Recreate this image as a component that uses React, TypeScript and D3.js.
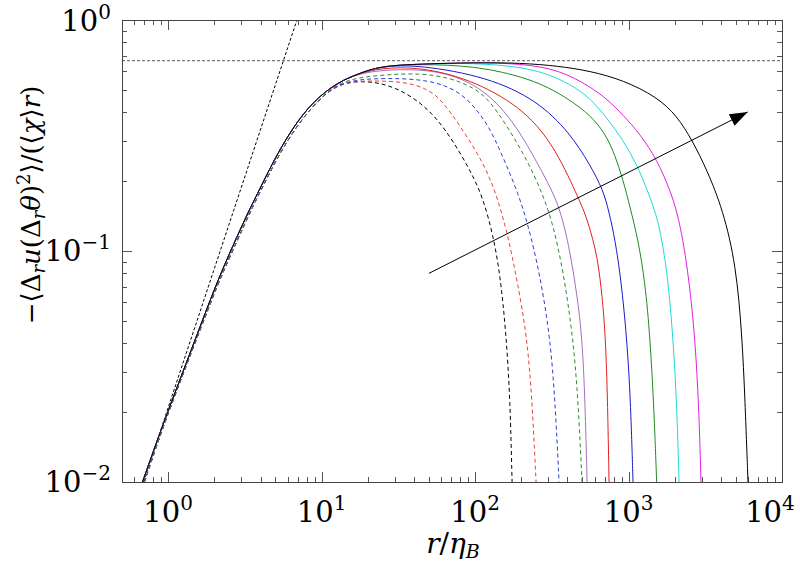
import React from 'react';
import * as d3 from 'd3';

const W = 800;
const H = 564;
const plot = { left: 122, right: 782, top: 20, bottom: 482 };

// axis extents and labelled decades
const xDomain: [number, number] = [0.5, 1e4];
const yDomain: [number, number] = [0.01, 1];
const xDecades = [1, 10, 100, 1000, 10000];
const xExps = ['0', '1', '2', '3', '4'];
const yDecades = [1, 0.1, 0.01];
const yExps = ['0', '\u22121', '\u22122'];

// reference lines
const plateauLine: [number, number][] = [[0.5, 0.667], [1e4, 0.667]];
const steepLine: [number, number][] = [[0.69, 0.01], [6.9, 1.0]];
const arrowPts: [number, number][] = [[50, 0.08], [5980, 0.4]];

// common small-r branch (all curves collapse here)
const riseSolid: [number, number][] = [
  [0.68, 0.01], [0.85, 0.0152], [1.03, 0.0215], [1.43, 0.038], [1.8, 0.057],
  [2.2, 0.08], [2.8, 0.115], [3.4, 0.152], [3.8, 0.176], [5.1, 0.262],
  [7, 0.37], [9.5, 0.465], [13, 0.54], [17, 0.582],
];
const riseDashed: [number, number][] = [
  [0.7, 0.01], [0.85, 0.0147], [1.03, 0.021], [1.43, 0.037], [1.8, 0.055],
  [2.2, 0.077], [2.8, 0.11], [3.4, 0.146], [3.8, 0.17], [5.1, 0.252],
  [7, 0.355], [9.5, 0.45],
];

// large-r tails of each curve
const blackDashed: [number, number][] = [
  [13.2, 0.539], [20.7, 0.545], [30.1, 0.513], [43.8, 0.442], [57.4, 0.369],
  [71.9, 0.299], [92.8, 0.224], [112.7, 0.17], [131, 0.117], [145.6, 0.079],
  [159.2, 0.044], [169.1, 0.0227], [174.2, 0.01],
];
const redDashed: [number, number][] = [
  [13.2, 0.539], [22.3, 0.547], [35, 0.539], [47.2, 0.508], [59.2, 0.46],
  [79.9, 0.348], [112.7, 0.243], [137, 0.178], [161.6, 0.121], [187.8, 0.075],
  [218.2, 0.0424], [235.1, 0.0227], [249.7, 0.01],
];
const blueDashed: [number, number][] = [
  [13.2, 0.5445], [24.05, 0.561], [43.8, 0.555], [63.8, 0.523], [86.1, 0.469],
  [119.7, 0.362], [152.2, 0.255], [190.6, 0.178], [221.5, 0.13], [265.1, 0.0787],
  [308.1, 0.0424], [331.9, 0.0227], [352.5, 0.01],
];
const greenDashed: [number, number][] = [
  [13.2, 0.55], [24.05, 0.578], [43.8, 0.59], [68.7, 0.561], [92.8, 0.518],
  [119.7, 0.464], [161.6, 0.348], [218.2, 0.248], [277.3, 0.175], [322.2, 0.13],
  [374.4, 0.0827], [435, 0.0424], [468.8, 0.0227], [497.8, 0.01],
];
const purpleSolid: [number, number][] = [
  [24.05, 0.607], [43.8, 0.614], [74.1, 0.578], [119.7, 0.488], [176.8, 0.365],
  [238.8, 0.26], [298.9, 0.197], [357.9, 0.1535], [415.7, 0.1], [461.8, 0.0645],
  [497.8, 0.0424], [520.7, 0.0227], [536.6, 0.01],
];
const redSolid: [number, number][] = [
  [24.05, 0.62], [43.8, 0.626], [92.8, 0.555], [196.5, 0.424], [322.2, 0.293],
  [468.8, 0.171], [528.6, 0.142], [587.1, 0.112], [632.8, 0.0896], [672, 0.0645],
  [708.3, 0.0424], [729.8, 0.0227], [746.4, 0.01],
];
const blueSolid: [number, number][] = [
  [24.05, 0.632], [43.8, 0.639], [119.7, 0.567], [253.4, 0.45], [415.7, 0.324],
  [561.4, 0.236], [682.3, 0.184], [746.4, 0.1475], [816.9, 0.112], [893.6, 0.0749],
  [973.4, 0.0424], [1030.4, 0.0227], [1069.7, 0.01],
];
const greenSolid: [number, number][] = [
  [24.05, 0.632], [43.8, 0.645], [100, 0.632], [196.5, 0.572], [298.9, 0.513],
  [415.7, 0.45], [561.4, 0.388], [703, 0.324], [816.9, 0.26], [920.9, 0.203],
  [1022.8, 0.155], [1153.5, 0.112], [1280.9, 0.0734], [1380.7, 0.0424],
  [1466, 0.0205], [1524.5, 0.01],
];
const cyanSolid: [number, number][] = [
  [24.05, 0.632], [43.8, 0.645], [100, 0.652], [199.4, 0.626], [298.9, 0.584],
  [415.7, 0.528], [561.4, 0.46], [724.4, 0.376], [920.9, 0.302], [1136.3, 0.236],
  [1339.8, 0.18], [1510.8, 0.145], [1653.2, 0.112], [1808.6, 0.0749],
  [1949.6, 0.0424], [2070.1, 0.0205], [2133.3, 0.01],
];
const magentaSolid: [number, number][] = [
  [24.05, 0.632], [43.8, 0.645], [100, 0.654], [199, 0.648], [358, 0.6075],
  [561, 0.5145], [724, 0.455], [921, 0.388], [1189, 0.321], [1535, 0.248],
  [1864, 0.1836], [2069, 0.1475], [2265, 0.1116], [2478, 0.0749], [2711, 0.0424],
  [2878, 0.0205], [2965, 0.01],
];
const blackSolid: [number, number][] = [
  [24.05, 0.632], [43.8, 0.645], [100, 0.6547], [199.4, 0.6515], [347.3, 0.6324],
  [561.4, 0.6015], [920.9, 0.5497], [1533.7, 0.4642], [2070.1, 0.3841],
  [2593, 0.3023], [3246.8, 0.2242], [4127, 0.1505], [5015, 0.087], [5488, 0.0433],
  [5741, 0.02265], [6004, 0.01],
];

const series = [
  { color: '#000000', dashed: true, pts: riseDashed.concat(blackDashed) },
  { color: '#e8403a', dashed: true, pts: riseDashed.concat(redDashed) },
  { color: '#2a3fd8', dashed: true, pts: riseDashed.concat(blueDashed) },
  { color: '#2e8b2e', dashed: true, pts: riseDashed.concat(greenDashed) },
  { color: '#a070c0', dashed: false, pts: riseSolid.concat(purpleSolid) },
  { color: '#e02020', dashed: false, pts: riseSolid.concat(redSolid) },
  { color: '#1a1acc', dashed: false, pts: riseSolid.concat(blueSolid) },
  { color: '#1f8a1f', dashed: false, pts: riseSolid.concat(greenSolid) },
  { color: '#20d8d8', dashed: false, pts: riseSolid.concat(cyanSolid) },
  { color: '#e020e0', dashed: false, pts: riseSolid.concat(magentaSolid) },
  { color: '#000000', dashed: false, pts: riseSolid.concat(blackSolid) },
];

const serif = 'DejaVu Serif';

export default function App() {
  const x = d3.scaleLog().domain(xDomain).range([plot.left, plot.right]);
  const y = d3.scaleLog().domain(yDomain).range([plot.bottom, plot.top]);

  const line = d3.line<[number, number]>()
    .x(d => x(d[0]))
    .y(d => y(d[1]))
    .curve(d3.curveBasis);
  const straight = d3.line<[number, number]>().x(d => x(d[0])).y(d => y(d[1]));

  const isMajor = (v: number) => Math.abs(Math.log10(v) - Math.round(Math.log10(v))) < 1e-9;
  const xTicks = x.ticks().filter(v => v >= xDomain[0] && v <= xDomain[1]);
  const yTicks = y.ticks().filter(v => v >= yDomain[0] && v <= yDomain[1]);

  const tickColor = '#555';
  const a0 = arrowPts[0];
  const a1 = arrowPts[1];

  return (
    <svg width={W} height={H} style={{ position: 'absolute', left: 0, top: 0, background: '#fff' }}
      fontFamily={serif}>
      <defs>
        <clipPath id="plotClip">
          <rect x={plot.left} y={plot.top} width={plot.right - plot.left} height={plot.bottom - plot.top} />
        </clipPath>
        <marker id="head" markerUnits="userSpaceOnUse" markerWidth={20} markerHeight={14}
          refX={18} refY={6.5} orient="auto">
          <path d="M0,0 L18,6.5 L0,13 Z" fill="#000" />
        </marker>
      </defs>

      {/* ticks */}
      <g stroke={tickColor} strokeWidth={1}>
        {xTicks.map((v, i) => {
          const len = isMajor(v) ? 10 : 5;
          const px = Math.round(x(v)) + 0.5;
          return (
            <g key={'xt' + i}>
              <line x1={px} x2={px} y1={plot.bottom} y2={plot.bottom - len} />
              <line x1={px} x2={px} y1={plot.top} y2={plot.top + len} />
            </g>
          );
        })}
        {yTicks.map((v, i) => {
          const len = isMajor(v) ? 10 : 5;
          const py = Math.round(y(v)) + 0.5;
          return (
            <g key={'yt' + i}>
              <line x1={plot.left} x2={plot.left + len} y1={py} y2={py} />
              <line x1={plot.right} x2={plot.right - len} y1={py} y2={py} />
            </g>
          );
        })}
      </g>

      {/* reference lines */}
      <g clipPath="url(#plotClip)" fill="none">
        <path d={straight(plateauLine) || ''} stroke="#777" strokeWidth={1.1} strokeDasharray="3,2" />
        <path d={straight(steepLine) || ''} stroke="#000" strokeWidth={1} strokeDasharray="3,2" />
      </g>

      {/* curves */}
      <g clipPath="url(#plotClip)" fill="none">
        {series.map((s, i) => (
          <path key={'s' + i} d={line(s.pts) || ''} stroke={s.color} strokeWidth={1}
            strokeDasharray={s.dashed ? '4,3' : undefined} />
        ))}
      </g>

      {/* arrow */}
      <line x1={x(a0[0])} y1={y(a0[1])} x2={x(a1[0])} y2={y(a1[1])}
        stroke="#000" strokeWidth={1} markerEnd="url(#head)" />

      {/* frame */}
      <rect x={plot.left + 0.5} y={plot.top + 0.5} width={plot.right - plot.left} height={plot.bottom - plot.top}
        fill="none" stroke="#444" strokeWidth={1} />

      {/* tick labels */}
      {xDecades.map((v, i) => (
        <text key={'xl' + i} x={Math.min(x(v), 770)} y={plot.bottom + 40} textAnchor="middle"
          fontFamily={serif} fontSize={29}>
          10<tspan fontSize={20} dy={-12}>{xExps[i]}</tspan>
        </text>
      ))}
      {yDecades.map((v, i) => (
        <text key={'yl' + i} x={plot.left - 11} y={Math.max(y(v) + 10, 31)} textAnchor="end"
          fontFamily={serif} fontSize={29}>
          10<tspan fontSize={20} dy={-12}>{yExps[i]}</tspan>
        </text>
      ))}

      {/* axis titles */}
      <text x={453} y={553} textAnchor="middle" fontFamily={serif} fontSize={28}>
        <tspan fontStyle="italic">r</tspan>/<tspan fontStyle="italic">η</tspan>
        <tspan fontStyle="italic" fontSize={19} dy={5}>B</tspan>
      </text>
      <text transform="translate(40,205) rotate(-90)" textAnchor="middle" fontFamily={serif} fontSize={26}>
        −⟨Δ<tspan fontStyle="italic" fontSize={18} dy={5}>r</tspan>
        <tspan fontStyle="italic" dy={-5}>u</tspan>(Δ<tspan fontStyle="italic" fontSize={18} dy={5}>r</tspan>
        <tspan fontStyle="italic" dy={-5}>θ</tspan>)<tspan fontSize={18} dy={-10}>2</tspan>
        <tspan dy={10}>⟩/(⟨</tspan><tspan fontStyle="italic">χ</tspan>⟩<tspan fontStyle="italic">r</tspan>)
      </text>
    </svg>
  );
}
